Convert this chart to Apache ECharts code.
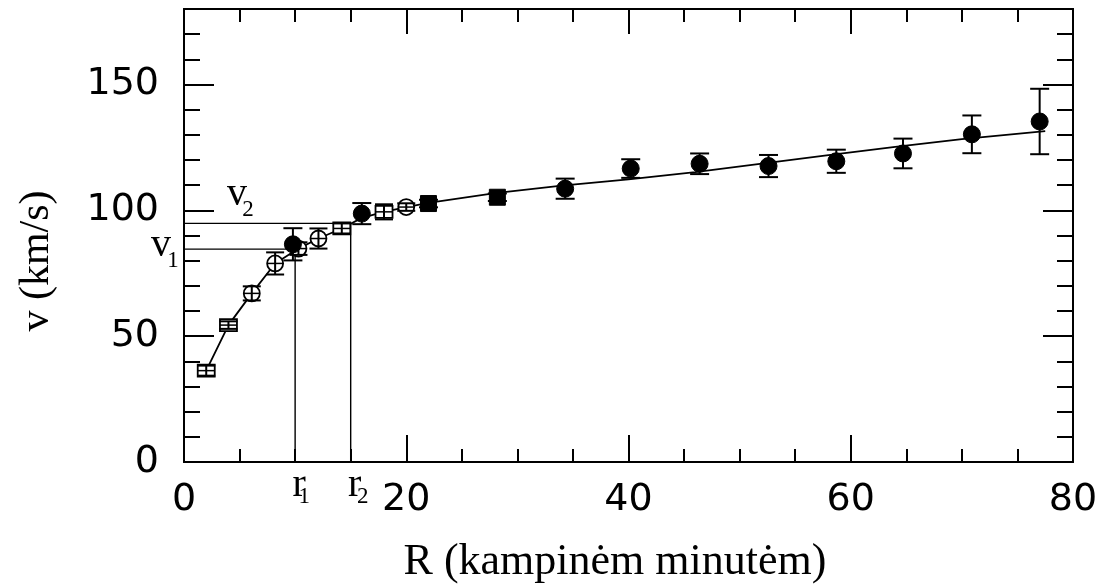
<!DOCTYPE html>
<html><head><meta charset="utf-8">
<script src="https://cdn.jsdelivr.net/npm/echarts@6/dist/echarts.min.js"></script>
<style>html,body{margin:0;padding:0;background:#fff}#c{width:1108px;height:585px}</style>
</head><body><div id="c"></div>
<script>
// ---- data ----
const openR = [2.0, 4.0, 6.1, 8.2, 10.3, 12.1, 14.2, 18.0, 20.0];
const openV = [36.3, 54.4, 67.0, 78.9, 84.8, 88.8, 92.8, 99.4, 101.3];
const openErr = [2.0, 1.5, 2.8, 4.4, 2.5, 4.0, 2.0, 3.0, 1.5];
const openShape = ['rect', 'rect', 'circle', 'circle', 'circle', 'circle', 'rect', 'rect', 'circle'];

const filledR = [9.8, 16.0, 22.0, 28.2, 34.3, 40.2, 46.4, 52.6, 58.7, 64.7, 70.9, 77.0];
const filledV = [86.5, 98.7, 102.7, 105.2, 108.6, 116.6, 118.5, 117.6, 119.5, 122.6, 130.2, 135.3];
const filledErr = [6.4, 4.2, 1.5, 1.5, 4.0, 3.7, 4.1, 4.4, 4.6, 5.9, 7.5, 13.0];
const filledShape = ['circle', 'circle', 'rect', 'rect', 'circle', 'circle', 'circle', 'circle', 'circle', 'circle', 'circle', 'circle'];

const modelR = [2, 4, 6.1, 8.2, 10.3, 12.1, 14.2, 16, 18, 20, 22, 28, 34, 40, 46, 52, 58, 64, 70, 77.5];
const modelV = [36.3, 54.4, 67.0, 78.9, 84.8, 88.8, 92.8, 97.0, 99.4, 101.3, 103.0, 106.8, 109.8, 112.3, 115.2, 118.6, 121.9, 125.2, 128.3, 131.5];

const refR = [10, 15];
const refV = [84.6, 94.8];
const refSub = ['1', '2'];

const xTickLabels = [0, 20, 40, 60, 80];
const yTickLabels = [0, 50, 100, 150];

// ---- chart ----
const chart = echarts.init(document.getElementById('c'), null, {renderer: 'canvas'});
const BLACK = '#000';
const tickFont = {fontFamily: 'DejaVu Sans', fontSize: 38, color: BLACK};

function xAxis(pos, showLabel) {
  return {
    type: 'value', position: pos, min: 0, max: 80, interval: 20,
    axisLine: {show: true, onZero: false, lineStyle: {color: BLACK, width: 2}},
    axisTick: {show: true, inside: true, length: pos === 'bottom' ? 27 : 25, lineStyle: {color: BLACK, width: 2}},
    minorTick: {show: true, splitNumber: 4, length: 13, lineStyle: {color: BLACK, width: 2}},
    splitLine: {show: false}, minorSplitLine: {show: false},
    axisLabel: Object.assign({show: showLabel, margin: 19,
      formatter: v => xTickLabels.includes(v) ? String(v) : ''}, tickFont)
  };
}
function yAxis(pos, interval, len, showLabel) {
  return {
    type: 'value', position: pos, min: 0, max: 180, interval: interval,
    axisLine: {show: true, onZero: false, lineStyle: {color: BLACK, width: 2}},
    axisTick: {show: true, inside: true, length: len, lineStyle: {color: BLACK, width: 2}},
    splitLine: {show: false},
    axisLabel: Object.assign({show: showLabel, margin: 25,
      formatter: v => yTickLabels.includes(v) ? String(v) : ''}, tickFont)
  };
}

function errBar(api, r, v, e, capW) {
  const top = api.coord([r, v + e]);
  const bot = api.coord([r, v - e]);
  const ls = {stroke: BLACK, lineWidth: 2};
  return [
    {type: 'line', shape: {x1: top[0], y1: top[1], x2: bot[0], y2: bot[1]}, style: ls},
    {type: 'line', shape: {x1: top[0] - capW / 2, y1: top[1], x2: top[0] + capW / 2, y2: top[1]}, style: ls},
    {type: 'line', shape: {x1: bot[0] - capW / 2, y1: bot[1], x2: bot[0] + capW / 2, y2: bot[1]}, style: ls}
  ];
}

const option = {
  backgroundColor: '#fff',
  animation: false,
  grid: {left: 184, right: 35, top: 9, bottom: 123, containLabel: false},
  xAxis: [xAxis('bottom', true), xAxis('top', false)],
  yAxis: [yAxis('left', 10, 16, true), yAxis('left', 50, 30, false), yAxis('right', 10, 16, false), yAxis('right', 50, 30, false)],
  graphic: [
    {type: 'text', x: 37, y: 261, rotation: Math.PI / 2,
      style: {text: 'v (km/s)', font: '42px "Liberation Serif"', fill: BLACK, align: 'center', verticalAlign: 'middle'}},
    {type: 'text', x: 615, y: 562,
      style: {text: 'R (kampinėm minutėm)', font: '44px "Liberation Serif"', fill: BLACK, align: 'center', verticalAlign: 'middle'}}
  ],
  series: [
    {
      type: 'line', xAxisIndex: 0, yAxisIndex: 0, z: 2,
      data: modelR.map((r, i) => [r, modelV[i]]),
      showSymbol: false, symbol: 'none',
      lineStyle: {color: BLACK, width: 1.8}
    },
    {
      type: 'custom', xAxisIndex: 0, yAxisIndex: 0, z: 3, clip: false,
      data: refR.map((r, i) => [r, refV[i]]),
      renderItem: function (params, api) {
        const i = params.dataIndex;
        const r = api.value(0), v = api.value(1);
        const p0 = api.coord([0, v]);
        const p1 = api.coord([r, v]);
        const p2 = api.coord([r, 0]);
        const ls = {stroke: BLACK, lineWidth: 1.4, fill: null};
        const serif = '40px "Liberation Serif"';
        const subF = '23px "Liberation Serif"';
        const vOff = i === 0 ? {vx: -23, vy: -3.5, sx: -11, sy: 12} : {vx: 53, vy: -29, sx: 64, sy: -13.6};
        return {
          type: 'group',
          children: [
            {type: 'polyline', shape: {points: [p0, p1, p2]}, style: ls},
            {type: 'text', style: {text: 'v', x: p0[0] + vOff.vx, y: p0[1] + vOff.vy, font: serif, fill: BLACK, align: 'center', verticalAlign: 'middle'}},
            {type: 'text', style: {text: refSub[i], x: p0[0] + vOff.sx, y: p0[1] + vOff.sy, font: subF, fill: BLACK, align: 'center', verticalAlign: 'middle'}},
            {type: 'text', style: {text: 'r', x: p2[0] + 4, y: p2[1] + 23, font: serif, fill: BLACK, align: 'center', verticalAlign: 'middle'}},
            {type: 'text', style: {text: refSub[i], x: p2[0] + (i === 0 ? 9 : 12), y: p2[1] + 35, font: subF, fill: BLACK, align: 'center', verticalAlign: 'middle'}}
          ]
        };
      }
    },
    {
      type: 'custom', xAxisIndex: 0, yAxisIndex: 0, z: 4,
      data: openR.map((r, i) => [r, openV[i], openErr[i]]),
      renderItem: function (params, api) {
        const i = params.dataIndex;
        const r = api.value(0), v = api.value(1), e = api.value(2);
        const c = api.coord([r, v]);
        const ch = [];
        const ls = {stroke: BLACK, lineWidth: 1.8, fill: '#fff'};
        let hw, hh;
        if (openShape[i] === 'rect') {
          hw = 8.5; hh = 6;
          ch.push({type: 'rect', shape: {x: c[0] - hw, y: c[1] - hh, width: hw * 2, height: hh * 2}, style: ls});
        } else {
          hw = 8; hh = 8;
          ch.push({type: 'circle', shape: {cx: c[0], cy: c[1], r: 8}, style: ls});
        }
        ch.push({type: 'line', shape: {x1: c[0] - hw, y1: c[1], x2: c[0] + hw, y2: c[1]}, style: {stroke: BLACK, lineWidth: 1.5}});
        ch.push(...errBar(api, r, v, e, 18));
        return {type: 'group', children: ch};
      }
    },
    {
      type: 'custom', xAxisIndex: 0, yAxisIndex: 0, z: 5,
      data: filledR.map((r, i) => [r, filledV[i], filledErr[i]]),
      renderItem: function (params, api) {
        const i = params.dataIndex;
        const r = api.value(0), v = api.value(1), e = api.value(2);
        const c = api.coord([r, v]);
        const ch = errBar(api, r, v, e, 19);
        const fs = {fill: BLACK, stroke: BLACK, lineWidth: 1};
        if (filledShape[i] === 'rect') {
          ch.push({type: 'rect', shape: {x: c[0] - 8, y: c[1] - 8, width: 16, height: 16}, style: fs});
        } else {
          ch.push({type: 'circle', shape: {cx: c[0], cy: c[1], r: 8.5}, style: fs});
        }
        return {type: 'group', children: ch};
      }
    }
  ]
};
chart.setOption(option);
</script>
</body></html>
